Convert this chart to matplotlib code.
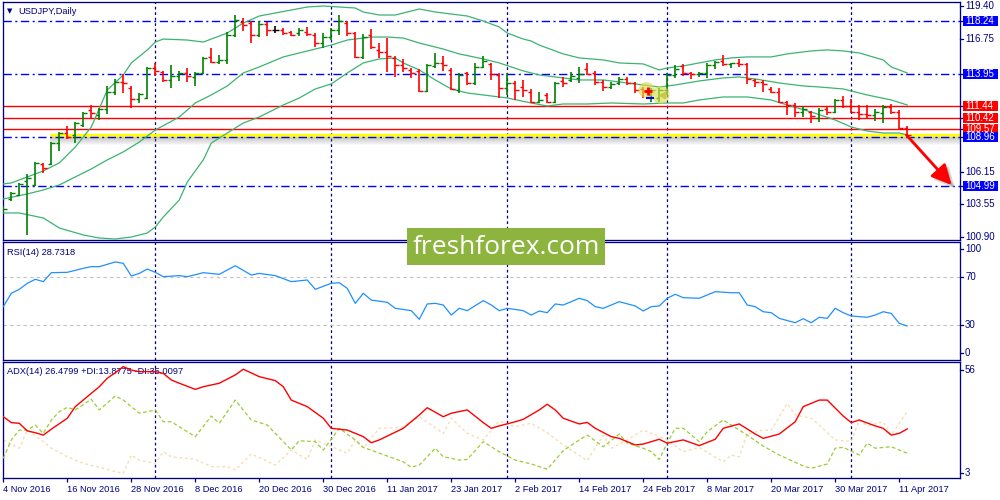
import matplotlib
matplotlib.use('Agg')
import matplotlib.pyplot as plt
import matplotlib.transforms as mtransforms
from matplotlib.patches import Ellipse, Rectangle
from matplotlib.lines import Line2D
import numpy as np

plt.rcParams['font.family'] = ['Liberation Sans', 'DejaVu Sans']

# ---------------- data ----------------
dates = ['4 Nov 2016', '16 Nov 2016', '28 Nov 2016', '8 Dec 2016', '20 Dec 2016',
         '30 Dec 2016', '11 Jan 2017', '23 Jan 2017', '2 Feb 2017', '14 Feb 2017',
         '24 Feb 2017', '8 Mar 2017', '20 Mar 2017', '30 Mar 2017', '11 Apr 2017']
date_bars = [0, 8, 16, 24, 32, 40, 48, 56, 64, 72, 80, 88, 96, 104, 112]
month_bars = [19, 41, 63, 83, 106]

opens = [103.05, 103.96, 104.28, 105.40, 105.08, 106.76, 106.76, 108.44, 109.24, 109.08,
         109.88, 111.08, 110.68, 111.16, 112.52, 113.32, 112.84, 111.96, 112.04, 114.44,
         114.12, 113.48, 113.80, 114.04, 113.72, 114.04, 115.32, 114.92, 115.08, 117.08,
         118.12, 118.04, 117.08, 117.96, 117.48, 117.48, 117.32, 117.24, 117.32, 117.08,
         116.44, 116.92, 117.48, 118.04, 117.24, 115.32, 117.08, 115.88, 115.72, 115.24,
         114.68, 114.28, 114.20, 112.60, 114.60, 114.84, 114.28, 112.68, 114.04, 113.24,
         114.52, 114.76, 113.88, 112.84, 113.24, 112.92, 112.52, 111.72, 112.28, 111.72,
         113.40, 113.48, 113.64, 114.36, 114.04, 113.32, 112.92, 113.24, 113.56, 113.24,
         112.76, 112.28, 112.04, 112.68, 113.88, 114.60, 114.04, 113.96, 114.04, 114.68,
         115.00, 114.76, 114.84, 114.76, 113.48, 113.32, 112.76, 112.52, 111.72, 111.48,
         110.92, 110.92, 110.44, 111.16, 110.92, 111.88, 111.40, 110.92, 110.76, 110.68,
         110.84, 111.32, 110.92, 109.64]
highs = [103.40, 104.55, 105.24, 105.96, 106.92, 106.84, 108.52, 109.32, 109.80, 110.12,
         110.92, 111.48, 111.24, 113.00, 113.56, 113.96, 113.00, 112.44, 114.52, 114.84,
         114.20, 114.68, 114.20, 114.44, 114.12, 115.32, 116.04, 115.48, 117.32, 118.68,
         118.44, 118.20, 118.20, 118.12, 117.80, 117.64, 117.40, 117.64, 117.72, 117.24,
         117.24, 117.64, 118.68, 118.20, 117.32, 117.16, 117.56, 116.44, 116.84, 115.40,
         115.16, 114.44, 114.36, 114.76, 115.64, 115.40, 114.44, 114.04, 114.12, 114.84,
         115.40, 114.84, 114.04, 114.04, 113.40, 113.48, 112.76, 112.52, 112.44, 113.32,
         113.72, 114.12, 114.52, 114.84, 114.20, 113.48, 113.32, 113.72, 113.72, 113.32,
         112.92, 112.84, 112.84, 114.04, 114.68, 114.76, 114.12, 114.12, 114.84, 115.00,
         115.48, 114.84, 115.16, 114.84, 113.56, 113.48, 112.92, 112.84, 111.80, 111.64,
         111.40, 111.00, 111.24, 111.32, 111.96, 112.20, 111.96, 111.48, 111.48, 111.16,
         111.48, 111.56, 111.08, 109.80]
lows = [102.84, 103.80, 104.20, 101.08, 105.00, 106.04, 106.68, 107.80, 108.76, 108.44,
        109.72, 110.44, 110.28, 110.76, 112.28, 112.44, 111.24, 111.64, 111.96, 113.80,
        113.32, 112.84, 113.40, 113.32, 113.00, 113.96, 114.84, 114.76, 114.76, 116.92,
        117.40, 116.44, 116.92, 117.00, 117.24, 117.08, 117.00, 117.00, 117.00, 116.12,
        116.04, 116.68, 117.08, 117.00, 115.24, 115.16, 115.96, 115.24, 114.12, 113.72,
        114.12, 113.64, 112.52, 112.52, 114.44, 114.20, 112.68, 112.44, 113.08, 113.08,
        114.44, 113.48, 112.04, 112.28, 111.88, 112.12, 111.64, 111.64, 111.64, 111.64,
        112.92, 113.32, 113.24, 113.88, 113.08, 112.60, 112.76, 113.08, 113.08, 112.44,
        112.04, 111.72, 111.72, 112.28, 113.64, 113.80, 113.56, 113.72, 113.64, 114.36,
        114.60, 114.44, 114.52, 113.16, 112.92, 112.52, 112.44, 111.64, 110.68, 110.52,
        110.52, 110.04, 110.12, 110.68, 110.84, 111.24, 110.84, 110.28, 110.44, 110.20,
        110.04, 110.76, 109.56, 109.00]
closes = [103.20, 104.44, 105.16, 105.64, 106.84, 106.44, 108.44, 109.24, 108.92, 110.04,
          110.84, 110.84, 111.16, 112.52, 113.32, 113.24, 111.96, 112.36, 114.44, 114.20,
          113.48, 113.80, 114.04, 113.80, 114.04, 115.24, 114.92, 115.08, 117.08, 118.28,
          117.88, 117.08, 117.96, 117.48, 117.48, 117.24, 117.08, 117.48, 117.16, 116.44,
          116.92, 117.48, 118.20, 117.24, 115.32, 116.92, 116.12, 115.72, 115.40, 114.68,
          114.44, 114.04, 112.60, 114.68, 114.84, 114.68, 112.76, 113.88, 113.24, 114.52,
          115.00, 113.96, 112.84, 113.24, 112.68, 112.68, 111.72, 111.88, 111.72, 113.24,
          113.24, 113.80, 113.96, 113.96, 113.32, 112.92, 113.16, 113.56, 113.24, 112.68,
          112.60, 112.68, 112.68, 113.88, 114.36, 114.04, 113.96, 114.04, 114.68, 114.92,
          114.76, 114.84, 114.76, 113.56, 113.32, 113.16, 112.52, 111.72, 111.48, 110.92,
          111.16, 110.60, 111.08, 110.92, 111.88, 111.40, 110.92, 110.76, 110.68, 110.92,
          111.32, 110.92, 109.64, 109.08]

bb_up_idx = [0, 1, 3, 5, 7, 9, 11, 13, 15, 16, 18, 19, 20, 23, 25, 26, 28, 30, 32, 34,
             36, 38, 40, 42, 44, 45, 47, 49, 50, 52, 54, 56, 58, 60, 62, 63, 65, 66, 67, 70,
             72, 75, 77, 80, 82, 83, 85, 87, 89, 91, 93, 96, 98, 101, 103, 105, 107, 110, 111, 113]
bb_up = [105.18, 105.26, 105.74, 106.22, 106.86, 108.13, 109.73, 112.69, 113.89, 114.85,
         115.89, 116.52, 116.76, 116.68, 116.52, 116.76, 117.24, 118.04, 118.60, 118.84,
         119.08, 119.32, 119.40, 119.32, 119.24, 118.92, 118.68, 118.68, 118.84, 119.16,
         118.92, 118.76, 118.60, 118.20, 117.72, 117.24, 116.76, 116.60, 116.28, 115.57,
         115.25, 115.09, 114.85, 114.77, 114.29, 114.45, 114.61, 114.85, 115.09, 115.25,
         115.33, 115.33, 115.57, 115.81, 115.89, 115.81, 115.65, 115.09, 114.53, 114.05]
bb_mid_idx = [0, 3, 5, 7, 9, 11, 13, 15, 17, 19, 22, 24, 26, 28, 30, 32, 35, 37, 39, 41,
              43, 46, 48, 50, 52, 55, 57, 60, 62, 65, 67, 70, 72, 75, 77, 80, 82, 84, 87, 90,
              92, 94, 97, 100, 102, 105, 108, 111, 113]
bb_mid = [103.98, 104.38, 104.70, 105.10, 105.74, 106.38, 107.10, 107.74, 108.53, 109.49,
          110.53, 111.65, 112.29, 113.01, 114.05, 114.53, 115.33, 115.65, 115.96, 116.28,
          116.68, 116.92, 116.92, 116.84, 116.44, 115.96, 115.57, 115.17, 114.85, 114.21,
          113.89, 113.65, 113.49, 113.49, 113.33, 113.09, 112.93, 113.09, 113.41, 113.65,
          113.73, 113.57, 113.25, 113.01, 112.93, 112.77, 112.29, 111.89, 111.49]
bb_low_idx = [0, 2, 5, 7, 10, 12, 14, 16, 18, 19, 20, 22, 23, 25, 26, 28, 30, 32, 35, 37,
              39, 41, 43, 45, 47, 49, 50, 52, 54, 56, 58, 61, 63, 66, 68, 70, 73, 76, 80, 83,
              85, 87, 90, 93, 96, 98, 101, 104, 106, 108, 110, 112, 113]
bb_low = [102.86, 102.86, 102.46, 101.66, 101.10, 100.86, 100.78, 100.94, 101.26, 101.74,
          102.54, 103.90, 105.34, 107.10, 108.45, 109.25, 110.05, 110.53, 111.49, 112.05,
          112.77, 113.17, 114.05, 114.85, 115.17, 115.25, 114.85, 114.29, 113.49, 112.77,
          112.45, 112.21, 112.05, 111.65, 111.41, 111.57, 111.57, 111.65, 111.57, 111.65,
          111.65, 111.89, 112.13, 112.13, 111.89, 111.49, 110.93, 110.29, 109.73, 109.41,
          109.25, 109.25, 109.09]

rsi_idx = [0, 1, 2, 3, 4, 5, 6, 8, 10, 11, 12, 14, 15, 16, 17, 18, 19, 20, 22, 23,
           25, 27, 29, 31, 32, 34, 36, 38, 39, 41, 42, 43, 44, 45, 46, 48, 49, 51, 52, 53,
           54, 55, 56, 57, 58, 60, 61, 62, 63, 65, 66, 67, 68, 69, 70, 72, 73, 74, 75, 77,
           79, 80, 81, 82, 83, 84, 85, 87, 89, 91, 92, 93, 94, 95, 96, 97, 99, 100, 101, 102,
           103, 104, 105, 106, 108, 109, 110, 111, 112, 113]
rsi = [45.2, 56.5, 59.9, 65.0, 68.4, 66.4, 74.0, 74.3, 77.7, 79.1,
       79.1, 83.1, 81.9, 71.2, 73.4, 77.1, 74.3, 70.6, 71.5, 70.6,
       74.0, 72.6, 79.9, 72.0, 73.4, 71.5, 66.4, 67.8, 59.9, 65.0,
       65.5, 60.7, 48.0, 56.5, 50.8, 48.9, 43.8, 41.8, 34.5, 47.5,
       48.0, 46.6, 38.1, 43.8, 41.8, 50.3, 46.6, 41.8, 43.8, 41.8,
       38.1, 41.5, 40.1, 47.5, 46.6, 52.3, 50.3, 45.2, 43.8, 49.4,
       45.8, 41.5, 45.2, 45.8, 52.3, 55.7, 52.8, 52.3, 57.9, 57.0,
       57.0, 46.6, 45.2, 40.9, 40.1, 35.3, 31.6, 35.0, 31.6, 36.2,
       35.3, 43.8, 40.1, 37.3, 36.2, 38.1, 40.9, 39.5, 31.1, 28.8]

adx_idx = [0, 1, 2, 3, 4, 5, 6, 8, 9, 11, 12, 13, 14, 15, 16, 17, 19, 20, 21, 22,
           24, 25, 27, 29, 30, 32, 34, 35, 36, 38, 40, 41, 43, 45, 46, 47, 50, 52, 53, 55,
           56, 58, 60, 61, 62, 64, 65, 67, 68, 69, 70, 72, 73, 74, 76, 77, 79, 80, 82, 83,
           85, 87, 89, 90, 92, 94, 95, 97, 99, 100, 102, 103, 105, 106, 107, 109, 110, 111, 112, 113]
adx = [31.0, 28.3, 28.0, 24.5, 23.7, 22.6, 25.3, 30.3, 35.6, 41.7,
       44.7, 48.6, 51.1, 53.9, 52.3, 51.6, 51.6, 50.8, 47.8, 46.3,
       43.5, 44.7, 46.3, 50.1, 52.7, 49.3, 47.5, 44.7, 38.6, 35.6,
       30.3, 25.7, 24.9, 21.9, 19.1, 20.4, 25.7, 31.8, 35.1, 31.0,
       32.6, 34.1, 28.3, 25.7, 26.8, 28.7, 29.8, 34.1, 36.7, 34.1,
       30.3, 27.7, 28.4, 25.7, 21.9, 21.1, 18.1, 18.5, 20.7, 18.9,
       20.4, 17.8, 20.7, 25.7, 27.7, 23.1, 21.1, 23.1, 28.7, 35.6,
       38.6, 38.6, 31.3, 28.3, 29.5, 26.8, 25.7, 22.6, 23.4, 25.4]
pdi_idx = [0, 1, 2, 3, 4, 5, 6, 7, 8, 9, 11, 12, 14, 15, 17, 18, 19, 20, 21, 24,
           26, 27, 29, 31, 33, 36, 37, 39, 40, 42, 44, 45, 50, 51, 52, 54, 55, 57, 58, 60,
           62, 64, 66, 68, 70, 72, 73, 75, 77, 78, 80, 81, 82, 83, 84, 85, 87, 88, 90, 91,
           93, 95, 97, 100, 101, 103, 104, 105, 107, 108, 109, 111, 113]
pdi = [12.0, 20.4, 24.9, 24.9, 27.2, 23.4, 29.5, 33.3, 35.3, 34.1,
       39.0, 34.1, 40.5, 38.6, 32.6, 33.3, 34.1, 28.7, 28.7, 21.9,
       31.3, 28.0, 38.6, 29.5, 27.2, 15.8, 20.0, 19.6, 15.8, 25.7,
       20.4, 17.0, 10.4, 7.9, 8.9, 16.6, 12.7, 11.2, 11.5, 19.6,
       15.0, 11.2, 9.4, 7.0, 15.5, 20.4, 22.6, 17.3, 23.1, 18.9,
       16.6, 15.0, 11.5, 18.9, 25.7, 25.7, 19.6, 24.2, 29.5, 27.2,
       22.6, 17.6, 13.5, 8.5, 7.4, 9.4, 16.6, 17.0, 13.5, 18.9,
       16.6, 17.3, 14.3]
mdi_idx = [0, 1, 2, 3, 5, 6, 8, 10, 12, 14, 15, 16, 17, 19, 20, 21, 24, 26, 28, 29,
           31, 34, 36, 38, 39, 40, 42, 43, 44, 45, 47, 50, 52, 55, 56, 58, 60, 62, 64, 66,
           68, 70, 71, 73, 75, 76, 78, 80, 82, 83, 85, 87, 90, 91, 92, 93, 95, 96, 98, 99,
           101, 102, 104, 106, 107, 108, 110, 111, 113]
mdi = [20.4, 18.5, 16.6, 24.9, 19.6, 16.6, 12.7, 9.7, 7.9, 5.9,
       5.1, 13.5, 11.2, 9.7, 15.0, 12.7, 11.5, 8.2, 8.2, 6.7,
       14.0, 8.9, 15.8, 11.5, 20.4, 18.9, 15.8, 14.3, 20.4, 16.6,
       25.7, 26.2, 31.0, 23.4, 30.3, 23.4, 20.4, 29.0, 26.4, 28.0,
       23.7, 18.1, 15.8, 10.9, 22.6, 16.6, 20.4, 24.9, 21.9, 20.4,
       15.0, 17.0, 10.4, 13.5, 12.7, 23.1, 24.9, 24.9, 37.1, 31.8,
       30.3, 27.2, 20.4, 19.6, 29.5, 26.8, 28.7, 22.6, 33.3]

blue_levels = [118.24, 113.95, 108.96, 104.99]
red_levels = [111.44, 110.42, 109.57]
yellow_level = 109.09
price_ticks = [119.40, 116.75, 106.15, 103.55, 100.90]

# ---------------- styling ----------------
NAVY = '#000080'
BLUE = '#0000FF'
RED = '#FF0000'
GREEN = '#008000'
BAND = '#3CB371'
FS = 6.7
FSR = 7.0
XLIM = (-0.04, 119.6)

fig = plt.figure(figsize=(10, 5), dpi=100)
fig.patch.set_facecolor('white')


def px_axes(x0, y0, x1, y1):
    return fig.add_axes([x0 / 1000, 1 - y1 / 500, (x1 - x0) / 1000, (y1 - y0) / 500])


ax1 = px_axes(3, 2, 960, 240)
ax2 = px_axes(3, 242, 960, 360)
ax3 = px_axes(3, 362, 960, 478)

for ax in (ax1, ax2, ax3):
    for s in ax.spines.values():
        s.set_color(NAVY)
        s.set_linewidth(0.95)
    ax.set_xlim(*XLIM)
    ax.tick_params(left=False, labelleft=False, right=False, labelright=False,
                   bottom=False, labelbottom=False)
    for m in month_bars:
        ax.axvline(m, color=NAVY, lw=0.9, ls=(0, (2.2, 2.2)), zorder=1)


def rlabel(ax, val, text, dy=0.0, box=None, z=10):
    tr = fig.dpi_scale_trans + mtransforms.ScaledTranslation(1.0, val, ax.get_yaxis_transform())
    y = -dy / 100.0
    ax.add_artist(Line2D([0, 0.03], [y, y], transform=tr, color=NAVY, lw=0.9, clip_on=False))
    if box is not None:
        ax.add_artist(Rectangle((0.027, y - 0.05), 0.355, 0.10, transform=tr, fc=box,
                                ec='none', clip_on=False, zorder=z))
    ax.text(0.05, y, text, transform=tr, ha='left', va='center', fontsize=FSR,
            color='white' if box is not None else NAVY, clip_on=False, zorder=z + 1)


# ---------------- main price panel ----------------
idx = np.arange(len(opens))
cols = [GREEN if c > o else (RED if c < o else 'black') for o, c in zip(opens, closes)]

for lv in blue_levels:
    ax1.axhline(lv, color=BLUE, lw=1.0, ls=(0, (6, 2.5, 1.5, 2.5)), zorder=3)
for lv in red_levels:
    ax1.axhline(lv, color=RED, lw=1.0, zorder=2)

# yellow trend line with soft shadow
for k in range(1, 9):
    ax1.hlines(yellow_level - 0.08 - 0.08 * k, 5.8, XLIM[1], colors='#707070',
               lw=1.2, alpha=0.30 * (1 - k / 9.5), zorder=1.5)
ax1.hlines(yellow_level, 5.8, XLIM[1], colors='#FFFF00', lw=2.3, zorder=2.5)

ax1.plot(bb_up_idx, bb_up, color=BAND, lw=0.9, zorder=3)
ax1.plot(bb_mid_idx, bb_mid, color=BAND, lw=0.9, zorder=3)
ax1.plot(bb_low_idx, bb_low, color=BAND, lw=0.9, zorder=3)

ax1.vlines(idx, lows, highs, colors=cols, lw=1.2, zorder=4)
ax1.hlines(opens, idx - 0.42, idx, colors=cols, lw=1.0, zorder=4)
ax1.hlines(closes, idx, idx + 0.42, colors=cols, lw=1.0, zorder=4)

# highlighter marks
ax1.add_patch(Ellipse((80.4, 112.69), 2.0, 1.28, fc='#DCDC50', ec='none', alpha=0.65, zorder=5))
ax1.add_patch(Ellipse((82.2, 112.29), 2.2, 1.40, fc='#DCDC50', ec='none', alpha=0.65, zorder=5))
ax1.plot([80.6], [112.62], marker='+', color=RED, ms=6, mew=2, zorder=6)
ax1.plot([82.3], [112.25], marker='<', color='#C8C84A', ms=4, zorder=6)
ax1.hlines(112.05, 80.3, 81.4, colors=BLUE, lw=1.5, zorder=6)

# arrow with shadow
ax1.annotate('', xy=(118.95, 104.85), xytext=(113.3, 108.85),
             arrowprops=dict(arrowstyle='-|>,head_length=0.6,head_width=0.3', mutation_scale=20,
                             color='#909090', lw=2, alpha=0.35, shrinkA=0, shrinkB=0), zorder=6)
ax1.annotate('', xy=(118.55, 105.10), xytext=(112.9, 109.09),
             arrowprops=dict(arrowstyle='-|>,head_length=0.6,head_width=0.3', mutation_scale=20,
                             color=RED, lw=2, shrinkA=0, shrinkB=0), zorder=7)

ax1.set_ylim(100.70, 119.72)
for p in price_ticks:
    rlabel(ax1, p, '%.2f' % p)
z = 10
for lv in [118.24, 113.95]:
    rlabel(ax1, lv, '%.2f' % lv, box=BLUE, z=z)
    z += 2
for lv in red_levels:
    rlabel(ax1, lv, '%.2f' % lv, box=RED, z=z)
    z += 2
for lv in [108.96, 104.99]:
    rlabel(ax1, lv, '%.2f' % lv, box=BLUE, z=z)
    z += 2

ax1.text(0.0068, 0.962, '\u25BC', transform=ax1.transAxes, ha='center', va='center',
         fontsize=5, color=NAVY, family='DejaVu Sans')
ax1.text(0.0157, 0.962, 'USDJPY,Daily', transform=ax1.transAxes, ha='left', va='center',
         fontsize=FS, color=NAVY)

# ---------------- RSI panel ----------------
ax2.set_ylim(0, 100)
for lv in (70, 30):
    ax2.axhline(lv, color='#C0C0C0', lw=0.8, ls=(0, (3, 3)), zorder=1)
ax2.plot(rsi_idx, rsi, color='#1E90FF', lw=0.9, zorder=3)
ax2.text(0.0042, 0.915, 'RSI(14) 28.7318', transform=ax2.transAxes, ha='left', va='center',
         fontsize=FS, color=NAVY)
rlabel(ax2, 100, '100', dy=7.3)
rlabel(ax2, 70, '70')
rlabel(ax2, 30, '30')
rlabel(ax2, 0, '0', dy=-6.7)

# ---------------- ADX panel ----------------
ax3.set_ylim(3, 56)
ax3.plot(mdi_idx, mdi, color='#F5DEB3', lw=1.0, ls=(0, (2, 2)), zorder=2)
ax3.plot(pdi_idx, pdi, color='#9ACD32', lw=0.9, ls=(0, (3, 2)), zorder=3)
ax3.plot(adx_idx, adx, color=RED, lw=1.0, zorder=4)
ax3.text(0.0042, 0.914, 'ADX(14) 26.4799 +DI:13.8775 -DI:35.0097', transform=ax3.transAxes,
         ha='left', va='center', fontsize=FS, color=NAVY)
rlabel(ax3, 56, '56', dy=8)
rlabel(ax3, 3, '3', dy=-5.3)

ax3.set_xticks(date_bars)
ax3.set_xticklabels(dates, ha='left')
ax3.tick_params(bottom=True, labelbottom=True, direction='out', length=3, width=0.9,
                color=NAVY, labelsize=FS, labelcolor=NAVY, pad=2)

# ---------------- watermark ----------------
wax = fig.add_axes([0.407, 0.47, 0.198, 0.074])
wax.set_zorder(20)
wax.set_facecolor('#8DB43F')
for s in wax.spines.values():
    s.set_visible(False)
wax.set_xticks([])
wax.set_yticks([])
wax.text(0.5, 0.47, 'freshforex.com', ha='center', va='center', color='white',
         fontsize=19, family='Open Sans', transform=wax.transAxes)

fig.savefig('out.png', dpi=100)
